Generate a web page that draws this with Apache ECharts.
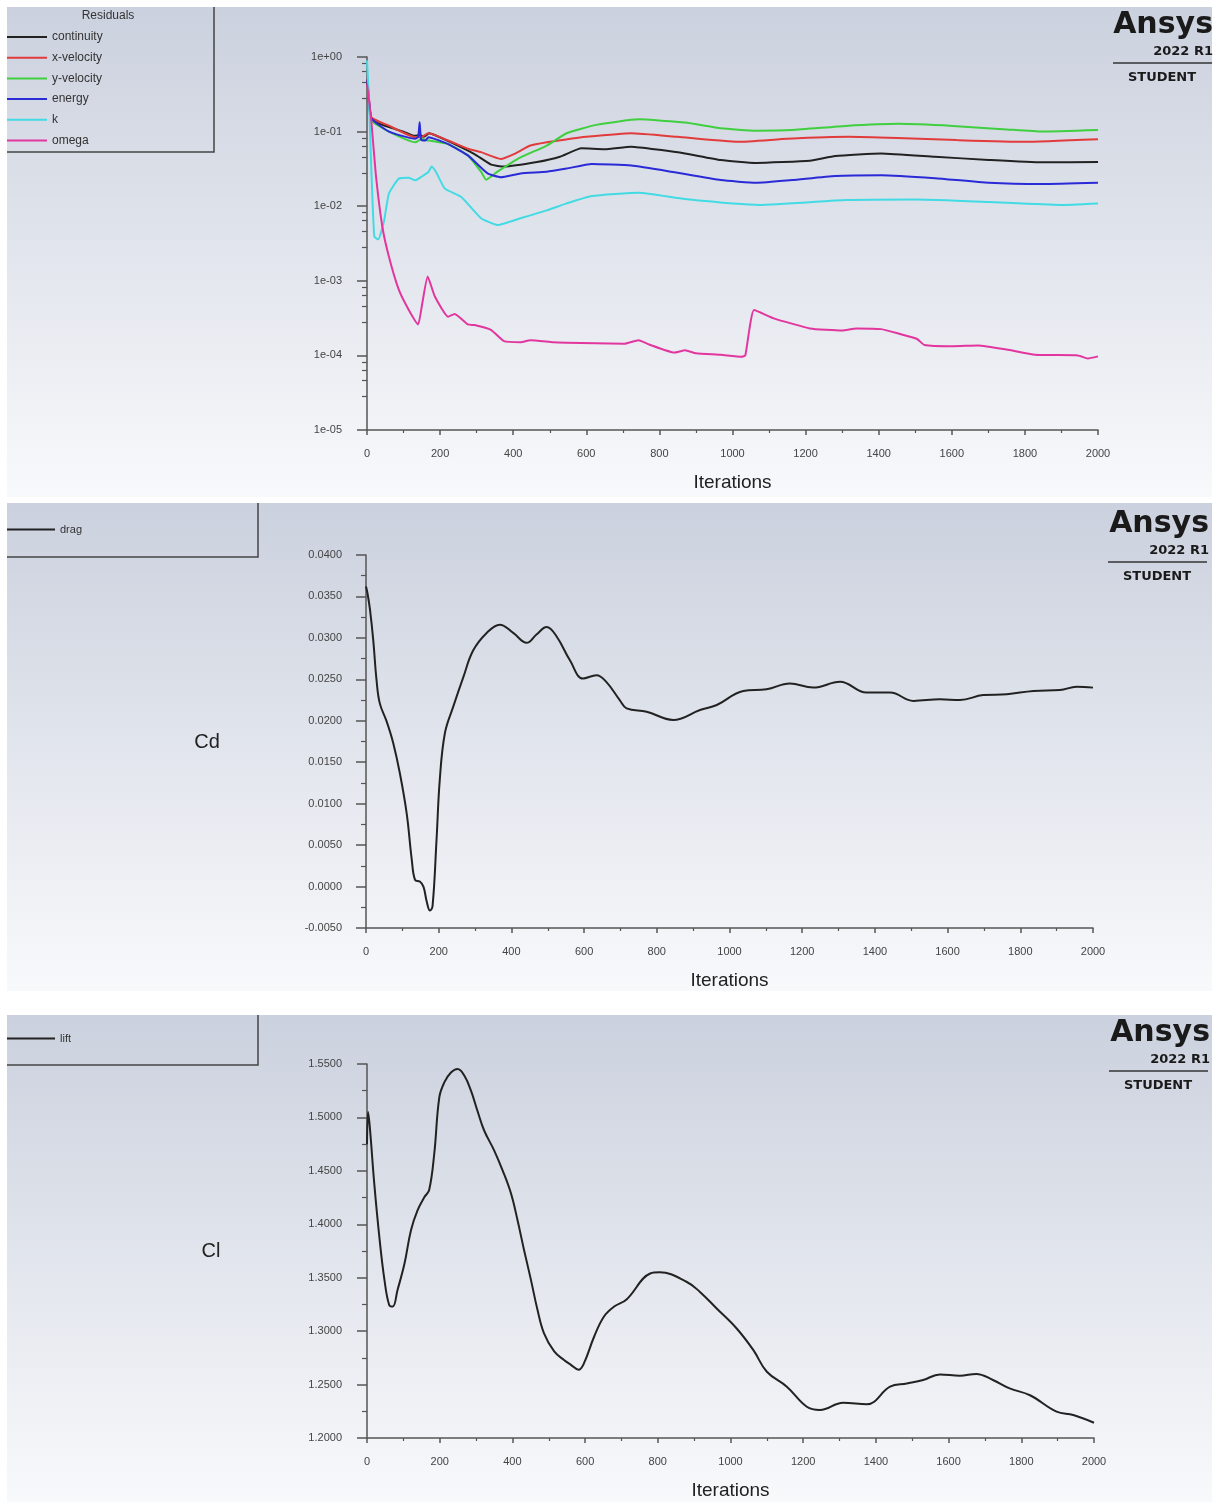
<!DOCTYPE html>
<html><head><meta charset="utf-8">
<script src="https://cdn.jsdelivr.net/npm/echarts@6/dist/echarts.min.js"></script>
<style>html,body{margin:0;padding:0;background:#fff}#c{width:1218px;height:1502px}</style>
</head><body><div id="c"></div>
<script>
// ---------- DATA ----------
const residualNames = ['continuity','x-velocity','y-velocity','energy','k','omega'];
const continuity = [[1,0.45],[5,0.25],[12,0.15],[30,0.13],[60,0.115],[100,0.1],[130,0.088],[145,0.09],[155,0.085],[170,0.095],[185,0.09],[240,0.068],[294,0.05],[340,0.036],[375,0.034],[465,0.039],[528,0.046],[587,0.0597],[650,0.058],[723,0.0628],[800,0.057],[870,0.051],[968,0.0416],[1064,0.038],[1212,0.0407],[1281,0.047],[1407,0.051],[1554,0.046],[1701,0.0417],[1847,0.0387],[2000,0.039]];
const xVelocity = [[1,0.5],[5,0.3],[12,0.155],[60,0.12],[132,0.084],[150,0.085],[168,0.095],[222,0.076],[276,0.059],[312,0.053],[366,0.043],[402,0.05],[447,0.065],[492,0.072],[540,0.078],[600,0.085],[723,0.095],[850,0.085],[1015,0.073],[1150,0.08],[1318,0.085],[1450,0.082],[1613,0.077],[1798,0.073],[2000,0.079]];
const yVelocity = [[1,0.4],[5,0.25],[12,0.14],[60,0.1],[132,0.072],[150,0.08],[168,0.076],[222,0.068],[276,0.048],[312,0.029],[326,0.0227],[357,0.029],[420,0.045],[492,0.065],[546,0.095],[627,0.123],[743,0.146],[870,0.132],[968,0.111],[1064,0.103],[1163,0.105],[1310,0.119],[1456,0.127],[1603,0.119],[1750,0.107],[1847,0.1],[2000,0.105]];
const energy = [[1,0.5],[5,0.28],[12,0.15],[60,0.1],[132,0.08],[140,0.085],[144,0.133],[148,0.078],[160,0.076],[168,0.084],[222,0.068],[276,0.048],[330,0.0275],[366,0.0245],[420,0.0275],[492,0.029],[546,0.032],[615,0.0368],[723,0.035],[832,0.029],[968,0.0224],[1064,0.0206],[1163,0.0224],[1281,0.0254],[1407,0.026],[1554,0.0237],[1701,0.0206],[1847,0.0198],[2000,0.0206]];
const kRes = [[0,0.9],[5,0.3],[12,0.03],[20,0.0039],[31,0.0036],[47,0.0065],[60,0.0148],[87,0.0234],[114,0.024],[132,0.0222],[150,0.025],[168,0.0287],[177,0.034],[190,0.028],[213,0.0172],[258,0.0133],[312,0.0069],[357,0.0056],[420,0.0069],[492,0.0088],[546,0.0109],[615,0.0137],[743,0.0152],[870,0.0125],[1074,0.0104],[1310,0.0121],[1505,0.0123],[1701,0.0114],[1895,0.0104],[2000,0.0109]];
const omega = [[0,0.43],[11,0.155],[24,0.027],[42,0.0053],[60,0.0021],[87,7.6e-4],[114,4.1e-4],[140,2.6e-4],[150,4.6e-4],[166,1.14e-3],[186,6.1e-4],[222,3.3e-4],[240,3.6e-4],[276,2.6e-4],[294,2.55e-4],[339,2.2e-4],[375,1.55e-4],[420,1.5e-4],[447,1.6e-4],[510,1.5e-4],[546,1.48e-4],[703,1.43e-4],[743,1.6e-4],[772,1.4e-4],[841,1.09e-4],[870,1.17e-4],[900,1.07e-4],[968,1.02e-4],[1025,9.6e-5],[1035,1.0e-4],[1059,4.06e-4],[1113,3.14e-4],[1212,2.3e-4],[1300,2.15e-4],[1339,2.3e-4],[1407,2.25e-4],[1456,1.95e-4],[1505,1.66e-4],[1525,1.38e-4],[1603,1.33e-4],[1672,1.36e-4],[1750,1.2e-4],[1828,1.02e-4],[1945,1.0e-4],[1972,9.1e-5],[2000,9.7e-5]];
const drag = [[0,0.0362],[4,0.0354],[11,0.0334],[20,0.0297],[29,0.0249],[38,0.0221],[57,0.0199],[75,0.0173],[93,0.0137],[112,0.0088],[126,0.0032],[135,0.0008],[148,0.0006],[158,0.0],[167,-0.0018],[176,-0.0029],[183,-0.0024],[194,0.0056],[203,0.0129],[217,0.0185],[240,0.0217],[268,0.0253],[295,0.0285],[332,0.0306],[368,0.0316],[405,0.0306],[442,0.0294],[469,0.0304],[497,0.0313],[524,0.0302],[561,0.0273],[597,0.0251],[634,0.0255],[661,0.0247],[698,0.0225],[717,0.0215],[772,0.0211],[845,0.0201],[919,0.0213],[965,0.0219],[1038,0.0236],[1102,0.0238],[1166,0.0245],[1230,0.024],[1304,0.0247],[1377,0.0234],[1442,0.0234],[1506,0.0224],[1579,0.0226],[1634,0.0225],[1698,0.0231],[1763,0.0232],[1836,0.0236],[1909,0.0237],[1955,0.0241],[2000,0.024]];
const lift = [[0,1.475],[3,1.505],[8,1.49],[20,1.438],[34,1.388],[48,1.348],[61,1.3245],[71,1.323],[84,1.3385],[103,1.363],[121,1.3945],[139,1.413],[158,1.4255],[171,1.432],[185,1.466],[199,1.519],[213,1.533],[231,1.542],[249,1.5453],[268,1.539],[286,1.525],[304,1.506],[322,1.488],[350,1.469],[373,1.4505],[396,1.429],[414,1.404],[432,1.376],[451,1.348],[469,1.32],[487,1.298],[515,1.281],[542,1.273],[561,1.2685],[582,1.2638],[597,1.27],[625,1.295],[652,1.3137],[680,1.323],[714,1.3296],[779,1.3539],[806,1.355],[880,1.346],[916,1.3367],[962,1.3212],[1017,1.3025],[1063,1.2822],[1100,1.262],[1155,1.248],[1210,1.2292],[1246,1.2262],[1310,1.233],[1375,1.2315],[1439,1.248],[1485,1.251],[1530,1.2543],[1576,1.2595],[1631,1.2583],[1676,1.26],[1722,1.2543],[1768,1.2464],[1824,1.24],[1897,1.2246],[1943,1.2215],[2000,1.2143]];

// ---------- CHART ----------
const FONT = '"Liberation Sans", Arial, sans-serif';
const chart = echarts.init(document.getElementById('c'));
const grad = () => new echarts.graphic.LinearGradient(0,0,0,1,[{offset:0,color:'#cbd1de'},{offset:1,color:'#f8f9fb'}]);
const axisCol = '#555';
function xAxisFor(g){
  return {type:'value', gridIndex:g, min:0, max:2000, interval:200,
    name:'Iterations', nameLocation:'middle', nameGap:43,
    nameTextStyle:{fontSize:19, color:'#222', fontFamily:FONT},
    axisLine:{show:true, onZero:false, lineStyle:{color:axisCol, width:1.5}},
    axisTick:{show:true, length:5, lineStyle:{color:axisCol, width:1.5}},
    minorTick:{show:true, splitNumber:2, length:3, lineStyle:{color:axisCol, width:1.2}},
    axisLabel:{margin:18, fontSize:11, color:'#444', fontFamily:FONT, formatter:v=>String(v)},
    splitLine:{show:false}, minorSplitLine:{show:false}};
}
function logLabel(v){
  const e = Math.round(Math.log10(v));
  const a = Math.abs(e);
  return '1e' + (e<0?'-':'+') + (a<10?'0':'') + a;
}
const yCommon = {
  axisLine:{show:true, onZero:false, lineStyle:{color:axisCol, width:1.5}},
  axisTick:{show:true, length:10, lineStyle:{color:axisCol, width:1.5}},
  splitLine:{show:false}, minorSplitLine:{show:false}
};
const resColors = ['#222222','#e23b3b','#3fcf3f','#2a2ad6','#42dbe4','#e2369e'];
const resData = [continuity, xVelocity, yVelocity, energy, kRes, omega];

const series = resData.map((d,i)=>({
  name: residualNames[i], type:'line', xAxisIndex:0, yAxisIndex:0, data:d,
  showSymbol:false, symbol:'none', smooth:0.15, lineStyle:{width:2, color:resColors[i]}, itemStyle:{color:resColors[i]}, z:2
}));
series.push({name:'drag', type:'line', xAxisIndex:1, yAxisIndex:1, data:drag, showSymbol:false, symbol:'none', smooth:0.4, lineStyle:{width:2, color:'#222'}, itemStyle:{color:'#222'}});
series.push({name:'lift', type:'line', xAxisIndex:2, yAxisIndex:2, data:lift, showSymbol:false, symbol:'none', smooth:0.4, lineStyle:{width:2, color:'#222'}, itemStyle:{color:'#222'}});

function logo(yTop, right, cx){
  return [
    {type:'text', right:1218-right, top:yTop, z:50, style:{text:'Ansys', font:'bold 30px "DejaVu Sans", sans-serif', fill:'#1a1a1a'}},
    {type:'text', right:1218-right, top:yTop+35, z:50, style:{text:'2022 R1', font:'bold 13px "DejaVu Sans", sans-serif', fill:'#1a1a1a'}},
    {type:'line', z:50, shape:{x1:cx-49, y1:yTop+53, x2:cx+50, y2:yTop+53}, style:{stroke:'#333', lineWidth:1.5}},
    {type:'text', z:50, x:cx, y:yTop+68, style:{text:'STUDENT', font:'bold 13px "DejaVu Sans", sans-serif', fill:'#1a1a1a', align:'center', verticalAlign:'middle'}}
  ];
}
const graphics = [
  {type:'rect', z:-100, shape:{x:7,y:7,width:1205,height:490}, style:{fill:grad()}},
  {type:'rect', z:-100, shape:{x:7,y:503,width:1205,height:488}, style:{fill:grad()}},
  {type:'rect', z:-100, shape:{x:7,y:1015,width:1205,height:487}, style:{fill:grad()}},
  {type:'polyline', z:50, shape:{points:[[214,7],[214,152],[7,152]]}, style:{stroke:'#444', lineWidth:1.5, fill:null}},
  {type:'polyline', z:50, shape:{points:[[258,503],[258,557],[7,557]]}, style:{stroke:'#444', lineWidth:1.5, fill:null}},
  {type:'polyline', z:50, shape:{points:[[258,1015],[258,1065],[7,1065]]}, style:{stroke:'#444', lineWidth:1.5, fill:null}},
  {type:'text', z:50, x:108, y:16, style:{text:'Residuals', font:'12px '+FONT, fill:'#333', align:'center', verticalAlign:'middle'}},
  {type:'text', z:50, x:207, y:742, style:{text:'Cd', font:'20px '+FONT, fill:'#222', align:'center', verticalAlign:'middle'}},
  {type:'text', z:50, x:211, y:1251, style:{text:'Cl', font:'20px '+FONT, fill:'#222', align:'center', verticalAlign:'middle'}},
  ...logo(10, 1213, 1162),
  ...logo(509, 1209, 1157),
  ...logo(1018, 1210, 1158)
];

const legendBase = {orient:'vertical', icon:'rect', itemHeight:2, selectedMode:false, padding:0,
  textStyle:{fontSize:12, color:'#333', fontFamily:FONT}};

chart.setOption({
  backgroundColor:'#ffffff',
  animation:false,
  grid:[
    {left:367, top:57, width:731, height:373},
    {left:366, top:555, width:727, height:373},
    {left:367, top:1064, width:727, height:374}
  ],
  xAxis:[xAxisFor(0), xAxisFor(1), xAxisFor(2)],
  yAxis:[
    Object.assign({type:'log', gridIndex:0, logBase:10, min:1e-5, max:1,
      axisLabel:{margin:25, fontSize:11, color:'#444', fontFamily:FONT, formatter:logLabel}}, yCommon, {minorTick:{show:true, splitNumber:5, length:5, lineStyle:{color:axisCol, width:1.2}}}),
    Object.assign({type:'value', gridIndex:1, min:-0.005, max:0.04, interval:0.005,
      axisLabel:{margin:24, fontSize:11, color:'#444', fontFamily:FONT, formatter:v=>(Math.abs(v)<1e-10?0:v).toFixed(4)}}, yCommon, {minorTick:{show:true, splitNumber:2, length:5, lineStyle:{color:axisCol, width:1.2}}}),
    Object.assign({type:'value', gridIndex:2, min:1.2, max:1.55, interval:0.05,
      axisLabel:{margin:25, fontSize:11, color:'#444', fontFamily:FONT, formatter:v=>v.toFixed(4)}}, yCommon, {minorTick:{show:true, splitNumber:2, length:5, lineStyle:{color:axisCol, width:1.2}}})
  ],
  legend:[
    Object.assign({}, legendBase, {data:residualNames, left:7, top:30, itemWidth:40, itemGap:6.7, textStyle:{fontSize:12, color:'#333', fontFamily:FONT, lineHeight:14, height:14}}),
    Object.assign({}, legendBase, {data:['drag'], left:7, top:524, itemWidth:48, textStyle:{fontSize:11, color:'#333', fontFamily:FONT}}),
    Object.assign({}, legendBase, {data:['lift'], left:7, top:1033, itemWidth:48, textStyle:{fontSize:11, color:'#333', fontFamily:FONT}})
  ],
  graphic: graphics,
  series: series
});
</script></body></html>
